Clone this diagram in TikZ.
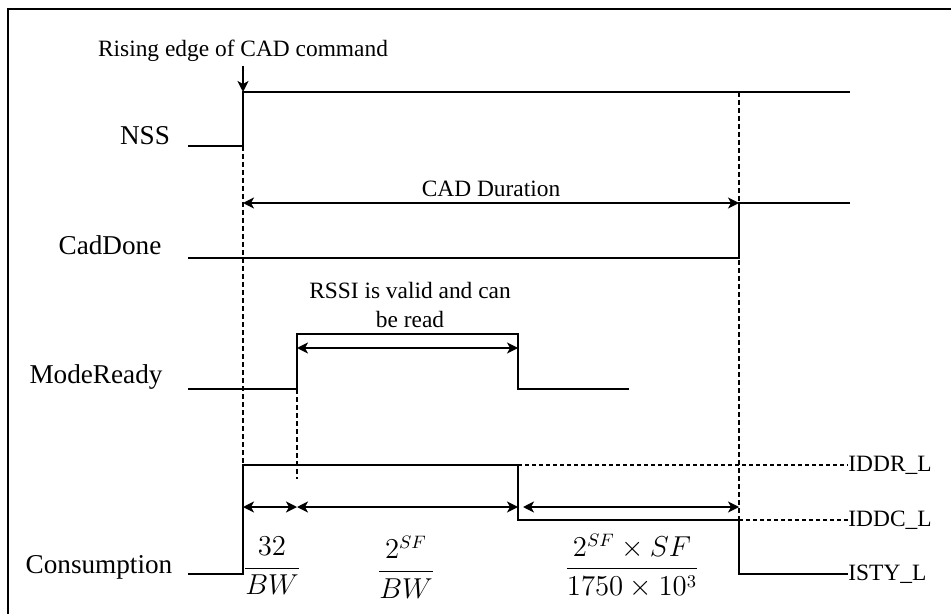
\documentclass[tikz,border=0pt]{standalone}
\usepackage{fontspec}
\setmainfont{Liberation Serif}
\usetikzlibrary{arrows.meta}
\tikzset{
  wave/.style={line width=0.8pt},
  vdash/.style={line width=0.7pt, dash pattern=on 2.5pt off 1.5pt},
  hdot/.style={line width=0.7pt, dash pattern=on 2pt off 1.5pt},
  tipA/.tip={Stealth[length=5.5pt,width=5.5pt,inset=1.5pt]},
  dimline/.style={line width=0.8pt, tipA-tipA},
  lab/.style={font=\fontsize{13.6}{16}\selectfont, inner sep=0pt},
  ann/.style={font=\fontsize{11.7}{14}\selectfont, inner sep=0pt},
  mth/.style={font=\fontsize{13.5}{16}\selectfont, inner sep=0pt},
}
\begin{document}
\begin{tikzpicture}[x=0.5pt,y=-0.5pt]
\useasboundingbox (0,0) rectangle (951,614);
\clip (0,0) rectangle (951,614);
\draw[line width=1pt] (8,9) rectangle (965,630);

% signal labels
\node[lab, anchor=base] (nss) at (145,145) {NSS};
\node[lab, anchor=base] (cad) at (110,255) {CadDone};
\node[lab, anchor=base] (mr) at (96,383) {ModeReady};
\node[lab, anchor=base] (cons) at (99,573) {Consumption};

% key coordinates
\coordinate (nssA) at (188,146);
\coordinate (nssB) at (243,146);
\coordinate (nssC) at (243,92);
\coordinate (nssD) at (850,92);
\coordinate (nssE) at (739,92);

\coordinate (cdA) at (188,258);
\coordinate (cdB) at (739,258);
\coordinate (cdC) at (739,203);
\coordinate (cdD) at (850,203);
\coordinate (cdL) at (243,203);

\coordinate (mrA) at (188,389);
\coordinate (mrB) at (297,389);
\coordinate (mrC) at (297,334);
\coordinate (mrD) at (518,334);
\coordinate (mrE) at (518,389);
\coordinate (mrF) at (629,389);
\coordinate (mrL) at (297,348);
\coordinate (mrR) at (518,348);
\coordinate (mrX) at (297,479);

\coordinate (cA) at (188,574);
\coordinate (cB) at (243,574);
\coordinate (cC) at (243,465);
\coordinate (cD) at (518,465);
\coordinate (cE) at (518,520);
\coordinate (cF) at (739,520);
\coordinate (cG) at (739,574);
\coordinate (cH) at (848,574);
\coordinate (cI) at (848,465);
\coordinate (cJ) at (848,520);

% dashed guide lines
\draw[vdash] (nssB) -- (cC);
\draw[vdash] (nssE) -- (cF);
\draw[vdash] (mrB) -- (mrX);

% rising edge annotation
\node[ann, anchor=base] (rise) at (243,57) {Rising edge of CAD command};
\draw[line width=0.8pt, -tipA] ([yshift=-2pt]rise.south) -- (nssC);

% waveforms
\draw[wave] (nssA) -- (nssB) -- (nssC) -- (nssD);
\draw[wave] (cdA) -- (cdB) -- (cdC) -- (cdD);
\draw[wave] (mrA) -- (mrB) -- (mrC) -- (mrD) -- (mrE) -- (mrF);
\draw[wave] (cA) -- (cB) -- (cC) -- (cD) -- (cE) -- (cF) -- (cG) -- (cH);
\draw[hdot] (cD) -- (cI);
\draw[hdot] (cF) -- (cJ);

% level labels
\node[ann, anchor=west] (iddr) at (cI) {IDDR\_L};
\node[ann, anchor=west] (iddc) at (cJ) {IDDC\_L};
\node[ann, anchor=west] (isty) at (cH) {ISTY\_L};

% CAD duration
\node[ann, anchor=base] (cadd) at (491,197) {CAD Duration};
\draw[dimline] (cdL) -- (cdC);

% RSSI
\node[ann, align=center, anchor=base] (rssi) at (410,327) {RSSI is valid and can\\be read};
\draw[dimline] (mrL) -- (mrR);

% consumption durations
\coordinate (d1) at (243,507);
\coordinate (d2) at (297,507);
\coordinate (d3) at (518,507);
\coordinate (d4) at (523,507);
\coordinate (d5) at (739,507);
\draw[dimline] (d1) -- (d2);
\draw[dimline] (d2) -- (d3);
\draw[dimline] (d4) -- (d5);

\node[mth] (f1) at (272,566) {$\displaystyle\frac{32}{BW}$};
\node[mth] (f2) at (406,567) {$\displaystyle\frac{2^{SF}}{BW}$};
\node[mth] (f3) at (632,566) {$\displaystyle\frac{2^{SF}\times SF}{1750\times 10^{3}}$};
\end{tikzpicture}
\end{document}
